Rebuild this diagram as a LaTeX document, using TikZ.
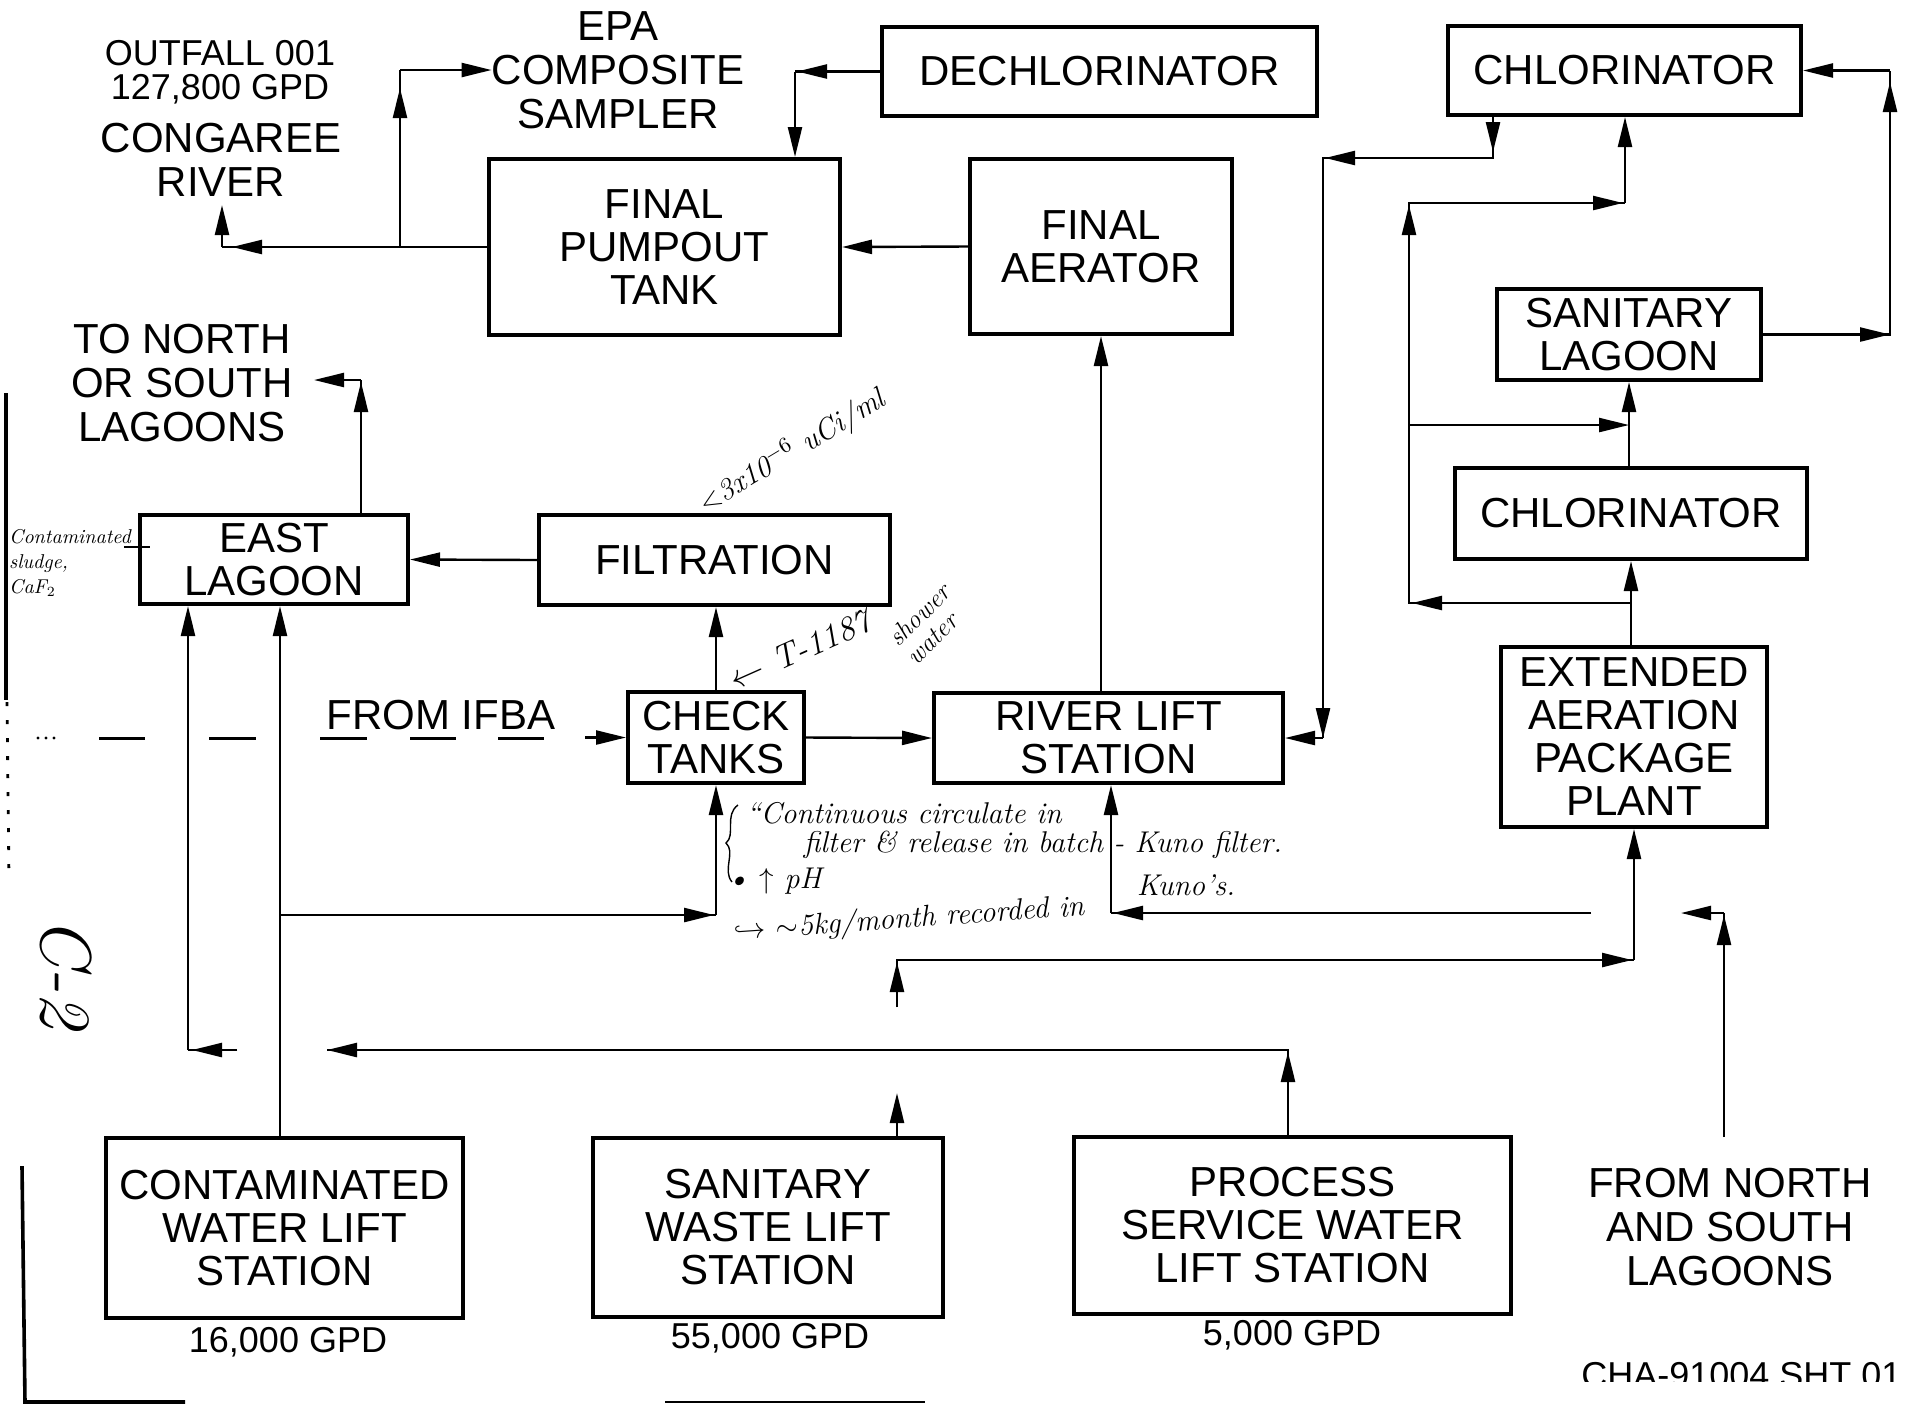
\documentclass[tikz,border=0pt]{standalone}
\usepackage{fontspec}
\newfontfamily\cad{Liberation Sans}
\usetikzlibrary{arrows.meta}
\begin{document}
\begin{tikzpicture}[x=0.5pt,y=-0.5pt,
  box/.style={draw,line width=2pt,inner sep=0pt,align=center,font=\cad\fontsize{21}{21.5}\selectfont},
  lbl/.style={inner sep=0pt,align=center,font=\cad\fontsize{21}{22}\selectfont},
  sml/.style={inner sep=0pt,align=center,font=\cad\fontsize{18}{16.75}\selectfont},
  hand/.style={inner sep=0pt,align=left,font=\itshape\fontsize{15}{16}\selectfont},
  ln/.style={line width=1.2pt},
  arr/.style={line width=1.2pt,-{Triangle[length=15pt,width=7pt]}},
  frame/.style={line width=1.8pt}
]
\fill[white] (0,0) rectangle (1932,1405);
\useasboundingbox (0,0) rectangle (1932,1405);

% ---------- boxes ----------
\node[box,minimum width=175.5pt,minimum height=88pt] (pump) at (664.5,247) {FINAL\\PUMPOUT\\TANK};
\node[box,minimum width=131pt,minimum height=87.5pt] (aer) at (1101,246.5) {FINAL\\AERATOR};
\node[box,minimum width=217.5pt,minimum height=44.5pt] (dechl) at (1099.5,71.5) {DECHLORINATOR};
\node[box,minimum width=176.5pt,minimum height=44.5pt] (chl1) at (1624.5,70.5) {CHLORINATOR};
\node[box,minimum width=132pt,minimum height=45.5pt] (sanl) at (1629,334.5) {SANITARY\\LAGOON};
\node[box,minimum width=176pt,minimum height=45.5pt] (chl2) at (1631,513.5) {CHLORINATOR};
\node[box,minimum width=133pt,minimum height=90pt] (eapp) at (1634,737) {EXTENDED\\AERATION\\PACKAGE\\PLANT};
\node[box,minimum width=174.5pt,minimum height=45pt] (river) at (1108.5,738) {RIVER LIFT\\STATION};
\node[box,minimum width=88pt,minimum height=45.5pt] (check) at (716,737.5) {CHECK\\TANKS};
\node[box,minimum width=175.5pt,minimum height=45pt] (filt) at (714.5,560) {FILTRATION};
\node[box,minimum width=134pt,minimum height=44.5pt] (east) at (274,559.5) {EAST\\LAGOON};
\node[box,minimum width=178.5pt,minimum height=90pt] (cwls) at (284.5,1228) {CONTAMINATED\\WATER LIFT\\STATION};
\node[box,minimum width=175pt,minimum height=89.5pt] (swls) at (768,1227.5) {SANITARY\\WASTE LIFT\\STATION};
\node[box,minimum width=218.5pt,minimum height=88.5pt] (pswls) at (1292.5,1225.5) {PROCESS\\SERVICE WATER\\LIFT STATION};

% ---------- free labels ----------
\node[lbl] (epa) at (618,70) {EPA\\COMPOSITE\\SAMPLER};
\node[sml] (outf) at (220,72) {OUTFALL 001\\127,800 GPD};
\node[lbl] (cong) at (221,160) {CONGAREE\\RIVER};
\node[lbl] (tons) at (182,383) {TO NORTH\\OR SOUTH\\LAGOONS};
\node[lbl] (ifba) at (441,715) {FROM IFBA};
\node[lbl] (fns) at (1730,1227) {FROM NORTH\\AND SOUTH\\LAGOONS};
\node[sml] (g1) at (288,1342) {16,000 GPD};
\node[sml] (g2) at (770,1338) {55,000 GPD};
\node[sml] (g3) at (1292,1335) {5,000 GPD};
\begin{scope}
  \clip (1500,1340) rectangle (1932,1381);
  \node[sml,anchor=north west] (cha) at (1581,1362) {CHA-91004 SHT 01};
\end{scope}

% ---------- coordinates ----------
\coordinate (a1) at (222,247);  \coordinate (a2) at (222,205);
\coordinate (b1) at (400,247);  \coordinate (b2) at (400,70);
\coordinate (c1) at (795,71.5);
\coordinate (f0) at (1493,115); \coordinate (f1) at (1493,158);
\coordinate (f2) at (1323,158); \coordinate (f3) at (1323,738);
\coordinate (gg1) at (1890,334.5); \coordinate (gg2) at (1890,70.5);
\coordinate (j1) at (1631,603); \coordinate (j2) at (1409,603);
\coordinate (j3) at (1409,203); \coordinate (j4) at (1625,203);
\coordinate (k1) at (1409,425);
\coordinate (l0) at (897,1138); \coordinate (l1) at (897,1093);
\coordinate (l2) at (897,1007); \coordinate (l3) at (897,960);
\coordinate (l4) at (1634,960);
\coordinate (m0) at (1288,1137); \coordinate (m1) at (1288,1050);
\coordinate (m2) at (327,1050); \coordinate (m3) at (237,1050);
\coordinate (m4) at (188,1050);
\coordinate (n0) at (280,1138); \coordinate (n1) at (280,915);
\coordinate (o1) at (716,915);
\coordinate (p0) at (1724,1137); \coordinate (p1) at (1724,913);
\coordinate (p2) at (1681,913); \coordinate (p3) at (1591,913);
\coordinate (p4) at (1111,913);
\coordinate (t1) at (361,380); \coordinate (t2) at (314,380);
\coordinate (u0) at (585,737.5);

% ---------- connectors ----------
% A: final pumpout -> Congaree River
\draw[ln] (pump.west) -- (a1);
\draw[arr] (a1) -- (a2);
\draw[arr] (275,247) -- (232,247);
% B: to EPA composite sampler
\draw[ln] (b1) -- (b2);
\draw[arr] (b2) -- (epa.west |- b2);
\draw[arr] (400,135) -- (400,88);
% C: dechlorinator -> pumpout
\draw[ln] (dechl.west) -- (c1);
\draw[arr] (c1) -- (c1 |- pump.north);
\draw[arr] (840,71.5) -- (797,71.5);
% D: aerator -> pumpout
\draw[arr] (aer.west) -- (pump.east);
% E: river lift -> aerator
\draw[arr] (aer.south |- river.north) -- (aer.south);
% F: chlorinator -> river lift
\draw[ln] (f0) -- (f1) -- (f2) -- (f3);
\draw[arr] (f3) -- (river.east);
\draw[arr] (f0) -- (1493,152);
\draw[arr] (1370,158) -- (1325,158);
\draw[arr] (1323,690) -- (f3);
% G: sanitary lagoon -> chlorinator
\draw[ln] (sanl.east) -- (gg1) -- (gg2);
\draw[arr] (gg2) -- (chl1.east);
\draw[arr] (1845,334.5) -- (gg1);
\draw[arr] (1890,130) -- (1890,82);
% H, I
\draw[arr] (chl2.south |- eapp.north) -- (chl2.south);
\draw[arr] (sanl.south |- chl2.north) -- (sanl.south);
% J: bypass to upper chlorinator
\draw[ln] (j1) -- (j2) -- (j3) -- (j4);
\draw[arr] (j4) -- (j4 |- chl1.south);
\draw[arr] (1460,603) -- (1412,603);
\draw[arr] (1409,250) -- (1409,205);
\draw[arr] (1578,203) -- (1623,203);
% K
\draw[arr] (k1) -- (k1 -| sanl.south);
% L: sanitary waste lift -> extended aeration
\draw[arr] (l0) -- (l1);
\draw[ln] (l2) -- (l3) -- (l4);
\draw[arr] (l4) -- (eapp.south);
\draw[arr] (l2) -- (897,962);
\draw[arr] (1588,960) -- (1632,960);
% M: process service water -> east lagoon
\draw[ln] (m0) -- (m1) -- (m2);
\draw[arr] (1288,1100) -- (1288,1052);
\draw[arr] (380,1050) -- (m2);
\draw[ln] (m3) -- (m4);
\draw[arr] (m3) -- (192,1050);
\draw[arr] (m4) -- (m4 |- east.south);
% N: contaminated water -> east lagoon
\draw[arr] (n0) -- (n0 |- east.south);
% O: to check tanks
\draw[ln] (n1) -- (o1);
\draw[arr] (o1) -- (check.south);
\draw[arr] (668,915) -- (714,915);
% P: from north and south lagoons -> river lift
\draw[ln] (p0) -- (p1);
\draw[arr] (1724,962) -- (1724,915);
\draw[arr] (p1) -- (p2);
\draw[ln] (p3) -- (p4);
\draw[arr] (p4) -- (p4 |- river.south);
\draw[arr] (1160,913) -- (1113,913);
% Q, R, S
\draw[arr] (check.north) -- (check.north |- filt.south);
\draw[arr] (check.east) -- (river.west);
\draw[arr] (filt.west) -- (east.east);
% T: east lagoon -> to north or south lagoons
\draw[ln] (t1 |- east.north) -- (t1);
\draw[arr] (t1) -- (t2);
\draw[arr] (361,430) -- (361,382);
% U: from IFBA (dashed)
\foreach \a/\b in {99/145,209/256,320/367,410/456,498/544}
  \draw[line width=1.5pt] (\a,738) -- (\b,738);
\draw[arr] (u0) -- (check.west);
\foreach \x in {38,46,54} \fill (\x,738) circle (0.8pt);

% ---------- frame marks ----------
\draw[frame] (6,393) -- (6,700);
\draw[line width=1.4pt,dash pattern=on 2pt off 7pt] (7,702) -- (9,880);
\draw[frame] (22,1166) -- (25,1402) -- (185,1402);
\draw[line width=1.4pt] (665,1402) -- (925,1402);

% ---------- handwritten notes ----------
\node[hand,font=\itshape\fontsize{10}{12.5}\selectfont] (note1) at (70,563) {Contaminated\\sludge,\\CaF$_2$};
\draw[line width=0.8pt] (124,547) -- (150,547);
\node[hand,rotate=31,font=\itshape\fontsize{15}{15}\selectfont] (note2) at (792,452) {$<$3x10$^{-6}$ uCi/ml};
\node[hand,rotate=24,font=\itshape\fontsize{17}{17}\selectfont] (note3) at (800,650) {$\leftarrow$ T-1187};
\node[hand,rotate=45,font=\itshape\fontsize{13}{13}\selectfont] (note4) at (928,624) {shower\\water};
\node[hand] (note5) at (904,813) {\textquotedblleft Continuous circulate in};
\node[hand] (note6) at (1043,845) {filter \& release in batch - Kuno filter.};
\node[hand] (note7) at (774,881) {\textbullet\ $\uparrow$ pH};
\node[hand,rotate=4] (note8) at (909,920) {$\hookrightarrow$ ${\sim}$5kg/month recorded in};
\node[hand] (note9) at (1186,885) {Kuno's.};
\draw[line width=0.7pt] (738,805) .. controls (724,815) and (736,835) .. (726,843) .. controls (736,852) and (722,870) .. (732,882);
\node[hand,rotate=-90,font=\itshape\fontsize{36}{36}\selectfont] (note10) at (66,973) {C-2};
\end{tikzpicture}
\end{document}
